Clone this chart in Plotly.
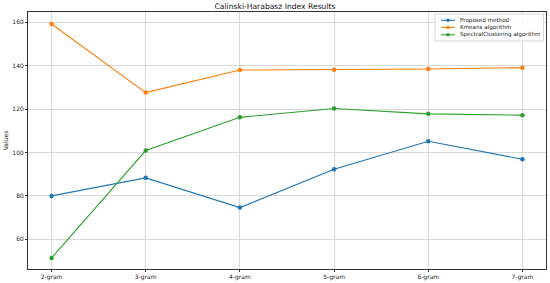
import plotly.graph_objects as go

categories = ["2-gram", "3-gram", "4-gram", "5-gram", "6-gram", "7-gram"]
proposed = [80.0, 88.3, 74.6, 92.3, 105.2, 96.9]
kmeans = [159.2, 127.6, 138.0, 138.1, 138.5, 139.1]
spectral = [51.4, 100.9, 116.2, 120.3, 117.8, 117.2]

series = [
    ("Proposed method", proposed, "#1f77b4"),
    ("Kmeans algorithm", kmeans, "#ff7f0e"),
    ("SpectralClustering algorithm", spectral, "#2ca02c"),
]

W, H = 550, 283
ML, MR, MT, MB = 28, 4, 12, 14
PW, PH = W - ML - MR, H - MT - MB


# pixel -> paper fraction helpers (for the hand made legend)
def px_x(p):
    return (p - ML) / PW


def px_y(p):
    return 1 - (p - MT) / PH


fig = go.Figure()
for name, vals, col in series:
    fig.add_trace(go.Scatter(
        x=list(range(len(categories))), y=vals, name=name,
        mode="lines+markers",
        line=dict(color=col, width=1.1),
        marker=dict(color=col, size=4.5),
        showlegend=False,
    ))

axis_common = dict(
    showline=True, linecolor="#333333", linewidth=1, mirror=True,
    showgrid=True, gridcolor="#d9d9d9", gridwidth=0.8,
    ticks="outside", ticklen=2, tickcolor="#333333",
    tickfont=dict(size=6, color="#222222"),
    zeroline=False, automargin=False,
)

# legend box, drawn by hand to match the compact matplotlib look
shapes = [dict(type="rect", xref="paper", yref="paper",
               x0=px_x(435), x1=px_x(543.5), y0=px_y(41), y1=px_y(14),
               line=dict(color="#cccccc", width=0.8), fillcolor="rgba(255,255,255,0.85)")]
annotations = []
rows = [20.3, 27.5, 34.8]
for (name, vals, col), ry in zip(series, rows):
    shapes.append(dict(type="line", xref="paper", yref="paper",
                       x0=px_x(441), x1=px_x(455), y0=px_y(ry), y1=px_y(ry),
                       line=dict(color=col, width=1.1)))
    shapes.append(dict(type="circle", xref="paper", yref="paper",
                       x0=px_x(446.2), x1=px_x(449.8), y0=px_y(ry + 1.8), y1=px_y(ry - 1.8),
                       line=dict(color=col, width=0), fillcolor=col))
    annotations.append(dict(text=name, xref="paper", yref="paper",
                            x=px_x(457.5), y=px_y(ry), xanchor="left", yanchor="middle",
                            showarrow=False, font=dict(size=5.6, color="#222222")))

fig.update_layout(
    template="none",
    width=W, height=H,
    margin=dict(l=ML, r=MR, t=MT, b=MB, autoexpand=False),
    paper_bgcolor="white", plot_bgcolor="white",
    font=dict(family="DejaVu Sans", size=6, color="#222222"),
    title=dict(text="Calinski-Harabasz Index Results", x=0.5, xanchor="center",
               y=1 - 6 / H, yanchor="middle", font=dict(size=7.6, color="#111111")),
    xaxis=dict(axis_common, range=[-0.25, 5.25], tickmode="array",
               tickvals=list(range(len(categories))), ticktext=categories),
    yaxis=dict(axis_common, range=[46.3, 164.75], tickvals=[60, 80, 100, 120, 140, 160],
               title=dict(text="Values", font=dict(size=6), standoff=3)),
    shapes=shapes,
    annotations=annotations,
    showlegend=False,
)

fig.write_html("out.html", config={"displayModeBar": False},
               post_script="document.body.style.margin='0';")
